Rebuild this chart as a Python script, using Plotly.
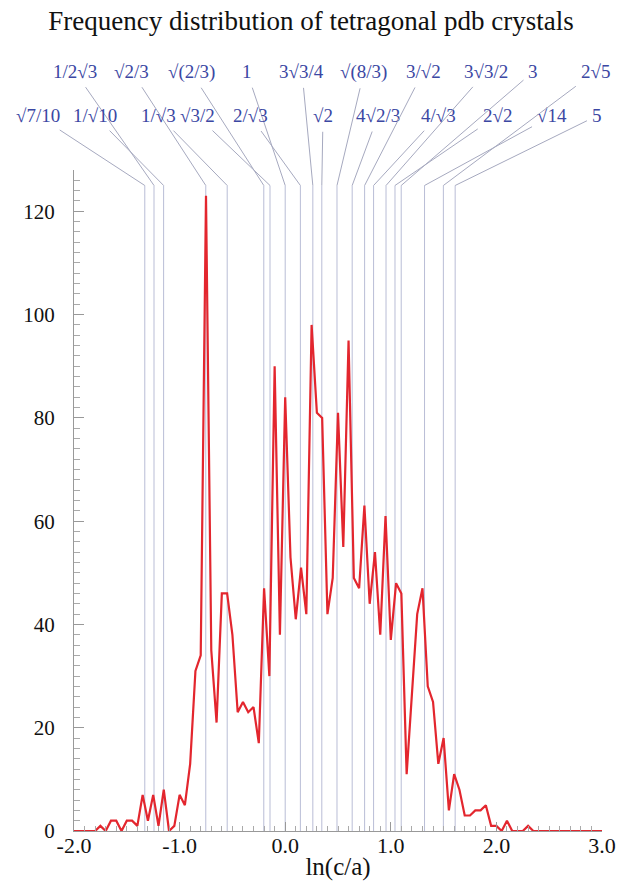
import numpy as np
import plotly.graph_objects as go

# ---- data ----
bin_start = -2.0
bin_width = 0.05
counts = [0, 0, 0, 0, 0, 1, 0, 2, 2, 0,
          2, 2, 1, 7, 2, 7, 1, 8, 0, 1,
          7, 5, 13, 31, 34, 123, 35, 21, 46, 46,
          38, 23, 25, 23, 24, 17, 47, 30, 90, 38,
          84, 53, 41, 51, 42, 98, 81, 80, 42, 49,
          81, 55, 95, 49, 47, 63, 44, 54, 38, 61,
          37, 48, 46, 11, 26, 42, 47, 28, 25, 13,
          18, 4, 11, 8, 3, 3, 4, 4, 5, 1,
          1, 0, 2, 0, 0, 0, 1, 0, 0, 0,
          0, 0, 0, 0, 0, 0, 0, 0, 0, 0, 0]
lnca = [bin_start + bin_width * i for i in range(len(counts))]

ratio_labels = ["√7/10", "1/2√3", "1/√10", "√2/3", "1/√3", "√(2/3)", "√3/2", "1",
                "2/√3", "3√3/4", "√2", "√(8/3)", "4√2/3", "3/√2", "4/√3", "3√3/2",
                "2√2", "3", "√14", "2√5", "5"]
ratio_values = [np.sqrt(7) / 10, 1 / (2 * np.sqrt(3)), 1 / np.sqrt(10), np.sqrt(2) / 3,
                1 / np.sqrt(3), np.sqrt(2 / 3), np.sqrt(3) / 2, 1.0,
                2 / np.sqrt(3), 3 * np.sqrt(3) / 4, np.sqrt(2), np.sqrt(8 / 3),
                4 * np.sqrt(2) / 3, 3 / np.sqrt(2), 4 / np.sqrt(3), 3 * np.sqrt(3) / 2,
                2 * np.sqrt(2), 3.0, np.sqrt(14), 2 * np.sqrt(5), 5.0]

x_tickvals = [-2, -1, 0, 1, 2, 3]
x_ticktext = ["-2.0", "-1.0", "0.0", "1.0", "2.0", "3.0"]
y_tickvals = [0, 20, 40, 60, 80, 100, 120]

# ---- layout of the labels (positions in axis units) ----
line_top = 125
label_row = [2, 1, 2, 1, 2, 1, 2, 1, 2, 1, 2, 1, 2, 1, 2, 1, 2, 1, 2, 1, 2]
label_x = [-2.341, -1.991, -1.801, -1.451, -1.196, -0.892, -0.835, -0.362,
           -0.333, 0.159, 0.358, 0.746, 0.879, 1.305, 1.447, 1.902,
           2.006, 2.347, 2.527, 2.934, 2.953]
row_y = {1: 147.0, 2: 138.5}

serif = "Liberation Serif"
label_color = "#3b47a3"

fig = go.Figure()
fig.add_trace(go.Scatter(x=lnca, y=counts, mode="lines",
                         line=dict(color="#e3262e", width=2.2),
                         showlegend=False, hoverinfo="skip"))

for v in ratio_values:
    lv = float(np.log(v))
    fig.add_shape(type="line", xref="x", yref="y", x0=lv, x1=lv, y0=0, y1=line_top,
                  line=dict(color="#b9bdd6", width=1), layer="below")

for lab, v, r, lx in zip(ratio_labels, ratio_values, label_row, label_x):
    fig.add_annotation(x=float(np.log(v)), y=line_top, xref="x", yref="y",
                       ax=lx, ay=row_y[r], axref="x", ayref="y",
                       text=lab, showarrow=True, arrowhead=0, arrowwidth=1,
                       arrowcolor="#a6a9bf", standoff=0, startstandoff=4,
                       font=dict(family=serif, size=19, color=label_color))

fig.update_layout(
    width=622, height=886,
    margin=dict(l=74, r=20, t=170, b=55, autoexpand=False),
    paper_bgcolor="white", plot_bgcolor="white",
    title=dict(text="Frequency distribution of tetragonal pdb crystals",
               x=0.5, xref="container", y=1 - 21 / 886, yref="container",
               xanchor="center", yanchor="middle",
               font=dict(family=serif, size=27, color="#111111")),
    font=dict(family=serif, color="#111111"),
)
fig.update_xaxes(range=[-2, 3], tickvals=x_tickvals, ticktext=x_ticktext,
                 ticks="inside", ticklen=9, tickcolor="#999999", tickwidth=1,
                 minor=dict(dtick=0.1, ticks="inside", ticklen=5, tickcolor="#aaaaaa"),
                 showline=True, linecolor="#999999", linewidth=1,
                 showgrid=False, zeroline=False, automargin=False,
                 ticklabelstandoff=-5,
                 tickfont=dict(family=serif, size=22, color="#111111"),
                 title=dict(text="ln(c/a)", standoff=0,
                            font=dict(family=serif, size=25, color="#111111")))
fig.update_yaxes(range=[0, 128], tickvals=y_tickvals,
                 ticks="inside", ticklen=10, tickcolor="#999999", tickwidth=1,
                 minor=dict(dtick=2, ticks="inside", ticklen=6, tickcolor="#aaaaaa"),
                 showline=True, linecolor="#999999", linewidth=1,
                 showgrid=False, zeroline=False, ticklabelstandoff=14, automargin=False,
                 tickfont=dict(family=serif, size=21, color="#111111"))

fig.write_html("out.html")
